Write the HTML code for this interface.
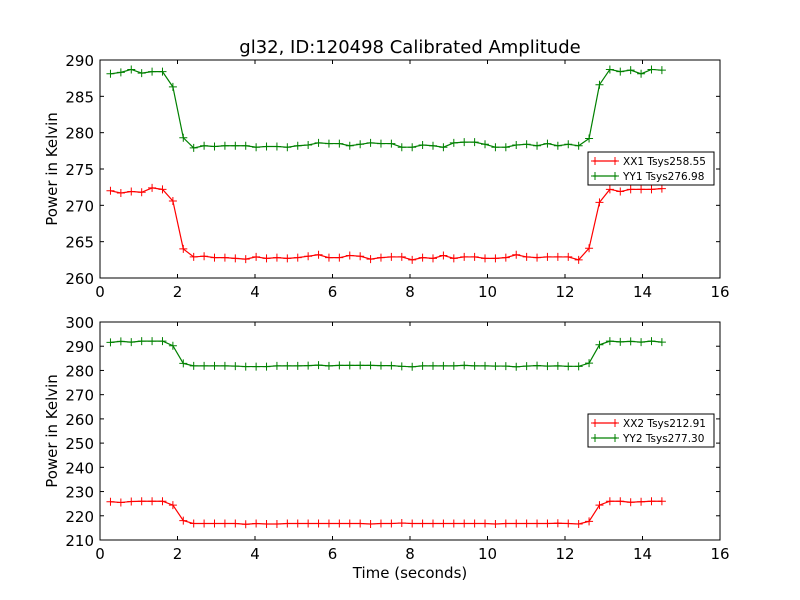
<!DOCTYPE html>
<html><head><meta charset="utf-8"><style>
body{margin:0;background:#fff;}
svg{display:block;font-family:"DejaVu Sans","Liberation Sans",sans-serif;}
</style></head><body>
<svg id="chart" width="800" height="600" viewBox="0 0 800 600">
<rect width="800" height="600" fill="#fff"/>
<text x="410" y="53" text-anchor="middle" font-size="18">gl32, ID:120498 Calibrated Amplitude</text>
<g id="top"></g>
<g id="bot"></g>
<text x="410" y="578" text-anchor="middle" font-size="15">Time (seconds)</text>
</svg>
<script>
const xTicks=[0,2,4,6,8,10,12,14,16];
const topYTicks=[260,265,270,275,280,285,290];
const botYTicks=[210,220,230,240,250,260,270,280,290,300];
const t0=0.27, dt=0.2685;
const yy1=[288.1,288.3,288.7,288.2,288.4,288.4,286.3,279.3,277.9,278.2,278.1,278.2,278.2,278.2,278.0,278.1,278.1,278.0,278.2,278.3,278.6,278.5,278.5,278.2,278.4,278.6,278.5,278.5,278.0,278.0,278.3,278.2,278.0,278.6,278.7,278.7,278.4,278.0,278.0,278.3,278.4,278.2,278.5,278.2,278.4,278.2,279.2,286.6,288.7,288.4,288.6,288.1,288.7,288.6];
const xx1=[272.0,271.7,271.9,271.8,272.4,272.2,270.6,264.0,262.9,263.0,262.8,262.8,262.7,262.6,262.9,262.7,262.8,262.7,262.8,263.0,263.2,262.8,262.8,263.1,263.0,262.6,262.8,262.9,262.9,262.5,262.8,262.7,263.1,262.7,262.9,262.9,262.7,262.7,262.8,263.2,262.9,262.8,262.9,262.9,262.9,262.5,264.1,270.4,272.2,271.9,272.2,272.2,272.2,272.3];
const yy2=[291.6,292.0,291.7,292.1,292.1,292.1,290.2,282.9,281.9,281.9,281.9,281.9,281.8,281.6,281.6,281.6,281.9,281.9,281.9,282.0,282.2,281.9,282.1,282.1,282.1,282.1,282.0,282.0,281.7,281.5,281.9,281.9,281.9,281.9,282.1,281.9,281.9,281.8,281.8,281.5,281.8,282.0,281.8,281.9,281.7,281.7,283.0,290.6,292.1,291.8,292.0,291.7,292.1,291.7];
const xx2=[225.8,225.5,225.9,226.0,226.0,226.0,224.4,218.0,216.8,216.8,216.8,216.8,216.8,216.5,216.8,216.6,216.6,216.8,216.8,216.8,216.8,216.8,216.8,216.8,216.8,216.6,216.8,216.8,217.0,216.8,216.8,216.8,216.8,216.8,216.8,216.8,216.8,216.6,216.8,216.8,216.8,216.8,216.8,216.9,216.8,216.6,217.7,224.4,226.0,226.0,225.6,225.8,226.0,226.0];
const legTop=["XX1 Tsys258.55","YY1 Tsys276.98"];
const legBot=["XX2 Tsys212.91","YY2 Tsys277.30"];
const NS="http://www.w3.org/2000/svg";
function mk(tag,attrs,parent){const e=document.createElementNS(NS,tag);for(const k in attrs)e.setAttribute(k,attrs[k]);parent.appendChild(e);return e;}
function panel(g,top,bottom,ymin,ymax,yticks,series,colors,legend,legY){
  const L=100,R=720;
  const sx=v=>L+(v-0)/(16-0)*(R-L);
  const sy=v=>bottom-(v-ymin)/(ymax-ymin)*(bottom-top);
  xTicks.forEach(v=>{
    const a=mk('line',{x1:sx(v),x2:sx(v),y1:bottom,y2:bottom-4,stroke:'#000'},g);
    
    const b=mk('line',{x1:sx(v),x2:sx(v),y1:top,y2:top+4,stroke:'#000'},g);
    
    const t=mk('text',{x:sx(v),y:bottom+19,'text-anchor':'middle','font-size':'15'},g);t.textContent=v;
    
  });
  yticks.forEach(v=>{
    const a=mk('line',{x1:L,x2:L+4,y1:sy(v),y2:sy(v),stroke:'#000'},g);
    
    const b=mk('line',{x1:R,x2:R-4,y1:sy(v),y2:sy(v),stroke:'#000'},g);
    
    const t=mk('text',{x:L-6,y:sy(v)+6,'text-anchor':'end','font-size':'15'},g);t.textContent=v;
    
  });
  const yt=mk('text',{x:0,y:0,'text-anchor':'middle','font-size':'15',transform:`translate(57,${(top+bottom)/2}) rotate(-90)`},g);
  yt.textContent='Power in Kelvin';
  
  series.forEach((s,i)=>{
    const pts=s.map((v,k)=>[sx(t0+k*dt),sy(v)]);
    const pl=mk('polyline',{points:pts.map(p=>p.join(',')).join(' '),fill:'none',stroke:colors[i],'stroke-width':1.2},g);
    
    pts.forEach(p=>{
      const m=mk('path',{d:`M${p[0]-4},${p[1]}h8M${p[0]},${p[1]-4}v8`,stroke:colors[i],'stroke-width':1},g);
      
    });
  });
  const fr=mk('rect',{x:L,y:top,width:R-L,height:bottom-top,fill:'none',stroke:'#000','stroke-width':1},g);
  
  const lg=mk('g',{},g);
  
  mk('rect',{x:588,y:legY,width:126,height:33,fill:'#fff',stroke:'#000','stroke-width':1},lg);
  legend.forEach((txt,i)=>{
    const y=legY+9+i*15;
    const e=mk('g',{},lg);
    
    mk('line',{x1:593,x2:617,y1:y,y2:y,stroke:colors[i],'stroke-width':1.2},e);
    mk('path',{d:`M591,${y}h8M595,${y-4}v8M611,${y}h8M615,${y-4}v8`,stroke:colors[i]},e);
    const t=mk('text',{x:623,y:y+4,'font-size':'10.5'},e);t.textContent=txt;
  });
}
panel(document.getElementById('top'),60,278,260,290,topYTicks,[xx1,yy1],['#ff0000','#008000'],legTop,152);
panel(document.getElementById('bot'),322,540,210,300,botYTicks,[xx2,yy2],['#ff0000','#008000'],legBot,414);
</script>
</body></html>
